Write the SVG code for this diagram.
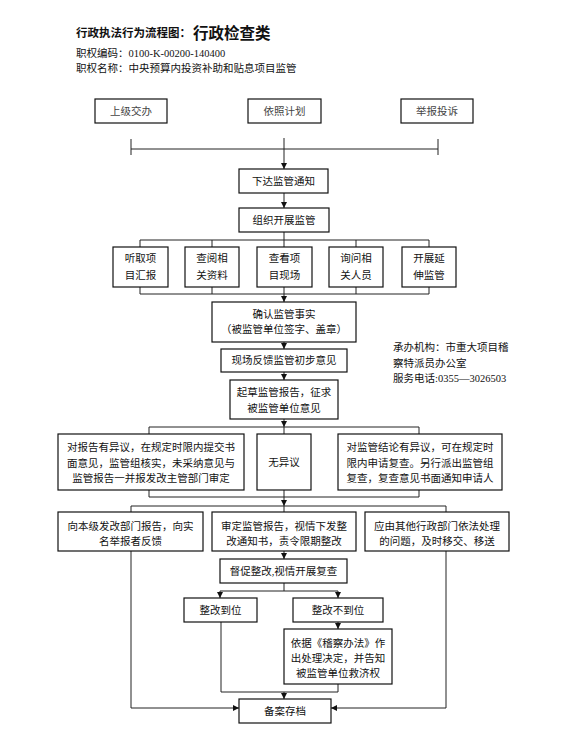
<svg xmlns="http://www.w3.org/2000/svg" width="562" height="739" viewBox="0 0 562 739">
<style>
text{font-family:"Liberation Serif","Noto Sans CJK SC",serif;font-size:10.5px;fill:#111;text-anchor:middle;dominant-baseline:central}
.hd{text-anchor:start}
.t1{font-family:"Noto Sans CJK SC",sans-serif;font-weight:bold;font-size:11.5px;text-anchor:start}
.t2{font-family:"Noto Sans CJK SC",sans-serif;font-weight:bold;font-size:15.5px;text-anchor:start}
.gr{fill:#444}
rect{fill:#fff;stroke:#111;stroke-width:1.2}
.c path{fill:none;stroke:#222;stroke-width:1}
</style>
<defs>
<marker id="ah" markerWidth="6" markerHeight="6" refX="6" refY="3" orient="auto" markerUnits="userSpaceOnUse">
<path d="M0,0 L6,3 L0,6 z" fill="#111"/>
</marker>
</defs>
<rect x="0" y="0" width="562" height="739" style="fill:#fff;stroke:none"/>
<g id="header">
<text class="t1" x="76" y="32">行政执法行为流程图：</text>
<text class="t2" x="193" y="32">行政检查类</text>
<text class="hd" x="76" y="53">职权编码：0100-K-00200-140400</text>
<text class="hd" x="76" y="68">职权名称：中央预算内投资补助和贴息项目监管</text>
</g>
<g class="c" id="connectors">
<path d="M131,139 V155 M438,139 V155 M131,149 H438"/>
<path d="M284,138 V169" marker-end="url(#ah)"/>
<path d="M284,193 V208" marker-end="url(#ah)"/>
<path d="M284,232 V240 M140,240 H429 M140,240 V247 M212,240 V247 M284,240 V247 M356,240 V247 M429,240 V247"/>
<path d="M140,287 V294 M212,287 V294 M284,287 V294 M356,287 V294 M429,287 V294 M140,294 H429"/>
<path d="M284,294 V302" marker-end="url(#ah)"/>
<path d="M284,342 V349" marker-end="url(#ah)"/>
<path d="M284,372 V380" marker-end="url(#ah)"/>
<path d="M284,419 V427" marker-end="url(#ah)"/>
<path d="M149,427 H419 M149,427 V434 M419,427 V434 M284,427 V434"/>
<path d="M149,490 V497 M419,490 V497 M284,490 V497 M149,497 H419"/>
<path d="M284,497 V506" marker-end="url(#ah)"/>
<path d="M131,506 H446 M131,506 V512 M284,506 V512 M446,506 V512"/>
<path d="M284,551 V559" marker-end="url(#ah)"/>
<path d="M284,583 V591 M220,591 H338"/>
<path d="M220,591 V598" marker-end="url(#ah)"/>
<path d="M338,591 V598" marker-end="url(#ah)"/>
<path d="M338,622 V629" marker-end="url(#ah)"/>
<path d="M221,622 V692 H338 M338,684 V692"/>
<path d="M284,692 V699" marker-end="url(#ah)"/>
<path d="M131,551 V708 H239" marker-end="url(#ah)"/>
<path d="M446,551 V708 H331" marker-end="url(#ah)"/>
</g>
<g id="n_sjjb"><rect x="95" y="99" width="72" height="24"/><text class="gr" x="131" y="111">上级交办</text></g>
<g id="n_yzjh"><rect x="248" y="99" width="73" height="24"/><text class="gr" x="284.5" y="111">依照计划</text></g>
<g id="n_jbts"><rect x="401" y="99" width="72" height="24"/><text class="gr" x="437" y="111">举报投诉</text></g>
<g id="n_xdtz"><rect x="239" y="169" width="89" height="24"/><text x="283.5" y="181">下达监管通知</text></g>
<g id="n_zzkz"><rect x="239" y="208" width="90" height="24"/><text x="284" y="220">组织开展监管</text></g>
<g id="n_tqxm"><rect x="113" y="247" width="55" height="40"/><text x="140.5" y="258">听取项</text><text x="140.5" y="275">目汇报</text></g>
<g id="n_cyxg"><rect x="185" y="247" width="54" height="40"/><text x="212" y="258">查阅相</text><text x="212" y="275">关资料</text></g>
<g id="n_ckxm"><rect x="257" y="247" width="55" height="40"/><text x="284.5" y="258">查看项</text><text x="284.5" y="275">目现场</text></g>
<g id="n_xwxg"><rect x="329" y="247" width="54" height="40"/><text x="356" y="258">询问相</text><text x="356" y="275">关人员</text></g>
<g id="n_kzys"><rect x="402" y="247" width="54" height="40"/><text x="429" y="258">开展延</text><text x="429" y="275">伸监管</text></g>
<g id="n_qrss"><rect x="212" y="302" width="144" height="40"/><text x="284" y="314">确认监管事实</text><text x="284" y="329">（被监管单位签字、盖章）</text></g>
<g id="n_xcfk"><rect x="221" y="349" width="126" height="23"/><text x="284" y="360.5">现场反馈监管初步意见</text></g>
<g id="n_qcbg"><rect x="230" y="380" width="108" height="39"/><text x="284" y="392">起草监管报告，征求</text><text x="284" y="408">被监管单位意见</text></g>
<g id="note">
<text class="hd" x="393" y="347">承办机构：市重大项目稽</text>
<text class="hd" x="393" y="363">察特派员办公室</text>
<text class="hd" x="393" y="378">服务电话:0355—3026503</text>
</g>
<g id="n_ybg"><rect x="58" y="434" width="186" height="56"/><text x="151" y="447">对报告有异议，在规定时限内提交书</text><text x="151" y="463">面意见，监管组核实，未采纳意见与</text><text x="151" y="478">监管报告一并报发改主管部门审定</text></g>
<g id="n_wyy"><rect x="257" y="434" width="54" height="56"/><text x="284" y="462">无异议</text></g>
<g id="n_fc"><rect x="338" y="434" width="164" height="56"/><text x="420" y="447">对监管结论有异议，可在规定时</text><text x="420" y="463">限内申请复查。另行派出监管组</text><text x="420" y="478">复查，复查意见书面通知申请人</text></g>
<g id="n_xbj"><rect x="58" y="512" width="145" height="39"/><text x="130.5" y="526">向本级发改部门报告，向实</text><text x="130.5" y="541">名举报者反馈</text></g>
<g id="n_sdbg"><rect x="212" y="512" width="144" height="39"/><text x="284" y="526">审定监管报告，视情下发整</text><text x="284" y="541">改通知书，责令限期整改</text></g>
<g id="n_yjs"><rect x="365" y="512" width="144" height="39"/><text x="437" y="526">应由其他行政部门依法处理</text><text x="437" y="541">的问题，及时移交、移送</text></g>
<g id="n_dczg"><rect x="220" y="559" width="127" height="24"/><text x="283.5" y="571">督促整改,视情开展复查</text></g>
<g id="n_zgdw"><rect x="184" y="598" width="73" height="24"/><text x="220.5" y="610">整改到位</text></g>
<g id="n_zgbdw"><rect x="293" y="598" width="90" height="24"/><text x="338" y="610">整改不到位</text></g>
<g id="n_yj"><rect x="284" y="629" width="108" height="55"/><text x="338" y="643">依据《稽察办法》作</text><text x="338" y="658">出处理决定，并告知</text><text x="338" y="673">被监管单位救济权</text></g>
<g id="n_bacd"><rect x="239" y="699" width="92" height="24"/><text x="285" y="711">备案存档</text></g>
</svg>
